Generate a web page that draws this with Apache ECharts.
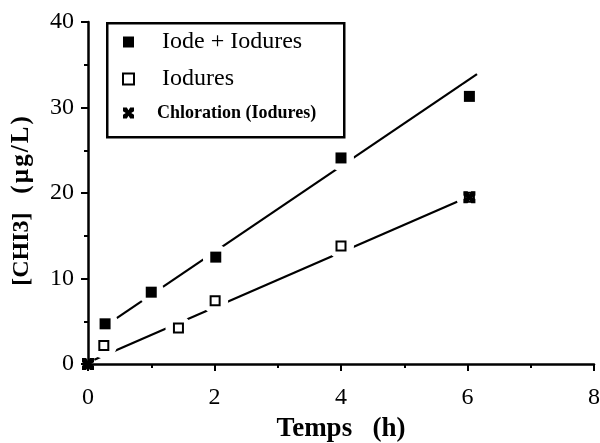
<!DOCTYPE html>
<html>
<head>
<meta charset="utf-8">
<script src="https://cdn.jsdelivr.net/npm/echarts@6/dist/echarts.min.js"></script>
<style>
html,body{margin:0;padding:0;background:#fff;}
#chart{width:600px;height:443px;}
</style>
</head>
<body>
<div id="chart"></div>
<script>
// ---- data ----
const iodeIodures = [[0.27, 4.7], [1.0, 8.4], [2.02, 12.5], [4.0, 24.1], [6.03, 31.3]];
const iodures = [[0.25, 2.15], [1.43, 4.2], [2.01, 7.4], [4.0, 13.8], [6.03, 19.5]];
const chloration = [[0, 0], [6.03, 19.5]];
const fitIodeIodures = [[0.25, 4.35], [6.15, 33.9]];
const fitIodures = [[0.1, 0.5], [6.0, 19.5]];
const xTicks = [0, 2, 4, 6, 8];
const yTicks = [0, 10, 20, 30, 40];
const names = ['Iode + Iodures', 'Iodures', 'Chloration (Iodures)'];

const serif = '"Liberation Serif", "DejaVu Serif", serif';
const xPath = 'path://M0,0 L3.5,0 L5,2.5 L6.5,0 L10,0 L10,3.5 L7.5,5 L10,6.5 L10,10 L6.5,10 L5,7.5 L3.5,10 L0,10 L0,6.5 L2.5,5 L0,3.5 Z';
const ts = '\u200a';

const chart = echarts.init(document.getElementById('chart'), null, {renderer: 'canvas'});
chart.setOption({
  animation: false,
  backgroundColor: '#fff',
  grid: {left: 88, right: 6, top: 22, bottom: 79, containLabel: false, outerBoundsMode: 'none'},
  xAxis: {
    type: 'value', min: xTicks[0], max: xTicks[xTicks.length - 1], interval: 2,
    name: 'Temps   (h)', nameLocation: 'middle', nameGap: 52,
    nameTextStyle: {fontFamily: serif, fontWeight: 'bold', fontSize: 27, color: '#000'},
    axisLine: {lineStyle: {color: '#000', width: 2.5}},
    axisTick: {length: 7, lineStyle: {color: '#000', width: 2}},
    minorTick: {show: true, splitNumber: 2, length: 4, lineStyle: {color: '#000', width: 2}},
    axisLabel: {fontFamily: serif, fontSize: 24, color: '#000', margin: 22},
    splitLine: {show: false}
  },
  yAxis: {
    type: 'value', min: yTicks[0], max: yTicks[yTicks.length - 1], interval: 10,
    name: '{a|[CHI3]}{b|   (' + ts + '\u00b5' + ts + 'g' + ts + '/' + ts + 'L' + ts + ')}',
    nameLocation: 'middle', nameGap: 54,
    nameTextStyle: {
      fontFamily: serif, fontWeight: 'bold', fontSize: 24, color: '#000', padding: [0, 16, 0, 0],
      rich: {
        a: {fontFamily: serif, fontWeight: 'bold', fontSize: 24, color: '#000'},
        b: {fontFamily: serif, fontWeight: 'bold', fontSize: 25, color: '#000'}
      }
    },
    axisLine: {lineStyle: {color: '#000', width: 2.5}},
    axisTick: {length: 7, lineStyle: {color: '#000', width: 2}},
    minorTick: {show: true, splitNumber: 2, length: 4, lineStyle: {color: '#000', width: 2}},
    axisLabel: {fontFamily: serif, fontSize: 24, color: '#000', margin: 14},
    splitLine: {show: false}
  },
  graphic: [{
    type: 'rect', left: 106, top: 22, z: 10,
    shape: {width: 237, height: 114},
    style: {fill: '#fff', stroke: '#000', lineWidth: 2.5}
  }],
  legend: {
    orient: 'vertical', left: 117, top: 25, z: 20,
    itemWidth: 11, itemHeight: 11, itemGap: 13,
    data: [
      {name: names[0], icon: 'rect'},
      {name: names[1], icon: 'rect'},
      {name: names[2], icon: xPath}
    ],
    formatter: function (n) { return n === names[2] ? '{s|' + n + '}' : '{b|' + n + '}'; },
    textStyle: {
      color: '#000', fontFamily: serif,
      rich: {
        b: {fontFamily: serif, fontSize: 24, color: '#000', lineHeight: 28, padding: [0, 0, 0, 23]},
        s: {fontFamily: serif, fontSize: 18, fontWeight: 'bold', color: '#000', lineHeight: 20, padding: [0, 0, 0, 18]}
      }
    }
  },
  series: [
    {type: 'line', data: fitIodeIodures, showSymbol: false, symbol: 'none', z: 1,
     lineStyle: {color: '#000', width: 2.2, opacity: 1}, silent: true},
    {type: 'line', data: fitIodures, showSymbol: false, symbol: 'none', z: 1,
     lineStyle: {color: '#000', width: 2.2, opacity: 1}, silent: true},
    {type: 'scatter', data: iodeIodures, symbol: 'circle', symbolSize: 26, z: 2,
     itemStyle: {color: '#fff', opacity: 1}, silent: true},
    {type: 'scatter', data: iodures, symbol: 'circle', symbolSize: 26, z: 2,
     itemStyle: {color: '#fff', opacity: 1}, silent: true},
    {name: names[0], type: 'scatter', data: iodeIodures, symbol: 'rect', symbolSize: 11, z: 3,
     itemStyle: {color: '#000', opacity: 1}},
    {name: names[1], type: 'scatter', data: iodures, symbol: 'rect', symbolSize: 9, z: 3,
     itemStyle: {color: '#fff', borderColor: '#000', borderWidth: 2, opacity: 1}},
    {name: names[2], type: 'scatter', data: chloration, symbol: xPath, symbolSize: 12, z: 4,
     itemStyle: {color: '#000', opacity: 1}}
  ]
});
</script>
</body>
</html>
